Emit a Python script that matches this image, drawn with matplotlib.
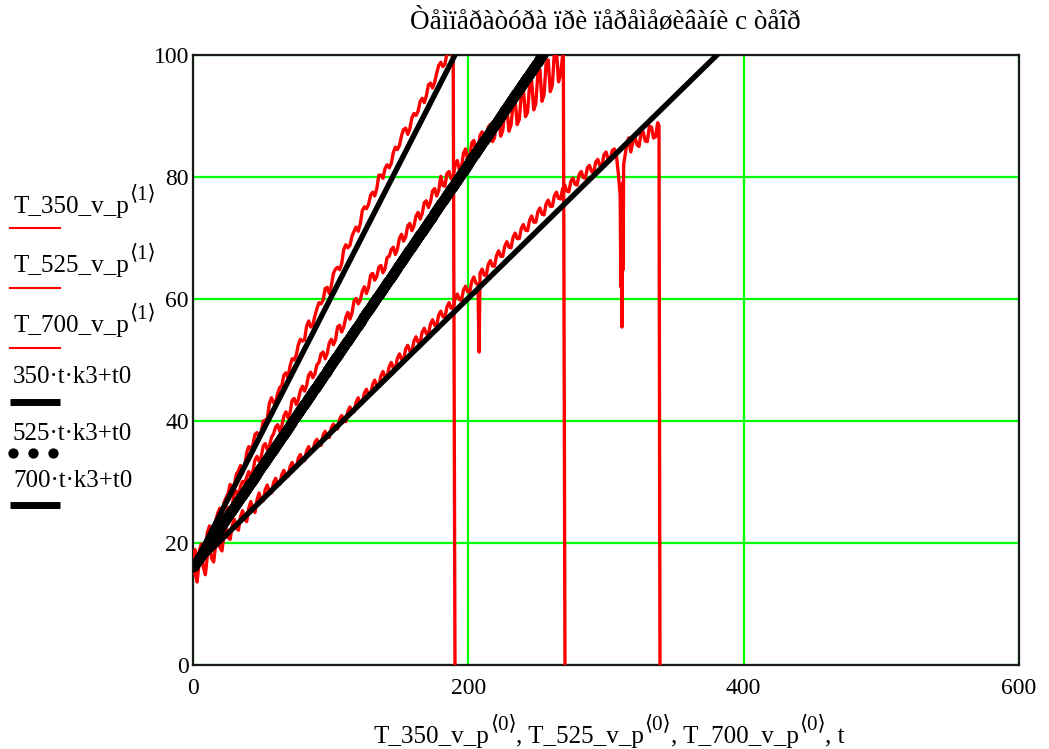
import numpy as np
import matplotlib
matplotlib.use("Agg")
import matplotlib.pyplot as plt

SERIF = ["Liberation Serif", "DejaVu Serif", "DejaVu Sans"]
plt.rcParams["font.family"] = SERIF

# ---------------- data ----------------
title_text = "Òåìïåðàòóðà ïðè ïåðåìåøèâàíè c òåîð"
x_ticks = [0, 200, 400, 600]
y_ticks = [0, 20, 40, 60, 80, 100]

k3 = 0.0006306
t0 = 16.0
speeds = [350, 525, 700]

step = 3.0  # sampling interval; "mid" readings sit half a step later

T_700_vals = [17.0, 16.2, 19.8, 19.2, 22.8, 22.7, 24.9, 24.7, 27.4, 29.6,
              29.5, 31.8, 31.4, 34.8, 35.4, 37.8, 37.4, 40.0, 40.5, 43.8,
              43.1, 45.5, 47.5, 47.1, 50.2, 50.8, 53.4, 53.3, 56.4, 55.7,
              58.4, 59.2, 61.7, 60.9, 64.2, 65.2, 65.8, 68.9, 68.8, 71.1,
              71.1, 74.5, 74.8, 77.0, 76.9, 80.3, 79.8, 82.0, 82.2, 84.9,
              85.2, 87.8, 87.0, 89.7, 90.1, 92.4, 92.2, 95.1, 94.6, 97.0,
              98.8, 98.5, 101.1, 100.5]
T_700_mid = [14.9, 18.6, 18.3, 21.8, 21.6, 23.6, 25.7, 26.6, 28.1, 28.8,
             31.3, 32.7, 32.6, 35.8, 36.1, 38.1, 38.1, 40.1, 42.9, 43.0,
             44.5, 45.8, 47.9, 49.0, 50.0, 52.5, 53.1, 55.5, 55.4, 57.2,
             59.4, 59.8, 61.9, 62.2, 64.9, 64.8, 68.1, 68.4, 70.3, 71.8,
             72.3, 75.1, 75.5, 77.5, 78.1, 80.3, 81.4, 81.5, 84.0, 84.5,
             86.8, 88.0, 87.9, 90.4, 90.8, 92.9, 93.3, 95.4, 95.5, 98.3,
             98.1, 100.3, 100.0]
T_700_extra_t = [190.3]
T_700_extra_v = [0.0]

T_525_vals = [17.8, 15.9, 19.3, 18.4, 21.4, 20.7, 23.6, 22.8, 24.9, 25.2,
              28.4, 27.4, 30.1, 30.8, 30.8, 33.6, 33.4, 35.9, 35.3, 37.3,
              39.0, 38.3, 40.8, 40.5, 43.4, 42.7, 45.0, 44.9, 47.5, 47.1,
              49.2, 51.0, 50.2, 52.8, 52.5, 55.4, 54.6, 57.0, 56.7, 59.7,
              59.2, 61.3, 60.9, 63.9, 63.1, 65.2, 64.3, 66.8, 68.1, 67.3,
              70.0, 69.5, 72.0, 71.2, 73.6, 73.1, 75.8, 75.0, 77.7, 76.9,
              80.1, 78.5, 80.9, 79.9, 82.7, 81.6, 84.6, 83.1, 86.0, 84.3,
              87.4, 85.5, 88.6, 86.4, 89.9, 87.6, 91.3, 88.5, 92.6, 89.4,
              94.5, 90.6, 95.8, 92.0, 97.6, 93.5, 99.2, 95.0, 100.8, 96.8]
T_525_mid = [18.9, 16.8, 19.9, 19.2, 21.8, 21.6, 23.9, 23.3, 25.8, 26.1,
             28.5, 29.3, 29.8, 31.7, 31.8, 34.2, 34.1, 36.3, 35.9, 37.9,
             39.4, 39.2, 41.5, 41.4, 43.7, 43.5, 45.7, 45.8, 48.0, 47.7,
             49.6, 51.3, 51.1, 53.4, 53.3, 55.7, 55.4, 57.8, 57.7, 60.1,
             59.8, 62.0, 61.9, 64.2, 63.7, 65.5, 65.0, 67.0, 68.5, 68.2,
             70.6, 70.2, 72.4, 72.0, 74.2, 74.0, 76.1, 75.9, 78.1, 77.8,
             78.6, 80.6, 79.7, 82.1, 81.2, 83.9, 82.8, 85.6, 84.2, 86.8,
             84.9, 88.2, 85.8, 89.3, 86.7, 90.8, 87.5, 92.0, 88.6, 93.6,
             89.9, 95.1, 91.0, 96.9, 92.4, 98.6, 94.0, 100.4, 95.6]
T_525_extra_t = [269.0, 270.2]
T_525_extra_v = [101.0, 0.0]

T_350_vals = [17.4, 13.6, 18.9, 14.8, 19.8, 16.9, 21.2, 18.7, 22.5, 20.6,
              23.9, 22.1, 25.3, 23.5, 26.8, 25.0, 28.2, 26.9, 29.5, 28.2,
              30.6, 29.6, 31.9, 30.9, 33.2, 32.3, 34.5, 33.5, 35.8, 35.0,
              37.0, 36.0, 38.3, 37.3, 39.5, 38.7, 40.9, 39.9, 42.3, 41.5,
              43.8, 42.9, 45.2, 44.3, 46.7, 45.7, 48.1, 47.2, 49.6, 48.6,
              51.0, 50.1, 52.4, 51.4, 53.8, 52.9, 55.2, 54.2, 56.6, 55.7,
              58.0, 57.0, 59.4, 58.5, 60.8, 59.8, 62.1, 61.1, 63.6, 62.4,
              64.9, 63.9, 66.3, 65.4, 67.9, 67.0, 69.4, 68.4, 70.8, 69.9,
              72.2, 71.2, 73.6, 72.6, 74.9, 73.8, 76.2, 75.2, 77.5, 76.4,
              78.7, 77.6, 79.8, 78.7, 80.9, 79.8, 81.9, 80.7, 82.9, 81.8,
              84.1, 82.7, 84.6, 80.5]
T_350_mid = [15.0, 17.0, 16.0, 18.1, 17.5, 19.7, 19.3, 21.3, 20.9, 22.9,
             22.5, 24.3, 23.9, 25.7, 25.5, 27.1, 27.0, 28.8, 28.4, 29.9,
             29.7, 31.2, 31.0, 32.5, 32.3, 33.9, 33.6, 35.1, 35.0, 36.5,
             36.2, 37.7, 37.4, 38.9, 38.7, 40.3, 40.0, 41.6, 41.5, 43.1,
             42.9, 44.6, 44.3, 46.0, 45.8, 47.4, 47.2, 48.9, 48.7, 50.3,
             50.1, 51.8, 51.5, 53.1, 52.9, 54.6, 54.3, 55.9, 55.7, 57.4,
             57.1, 58.7, 58.5, 60.2, 59.9, 61.5, 61.2, 62.9, 62.6, 64.2,
             63.9, 65.7, 65.4, 67.1, 67.0, 68.7, 68.5, 70.1, 69.9, 71.6,
             71.3, 72.9, 72.6, 74.3, 73.9, 75.6, 75.2, 76.9, 76.5, 78.1,
             77.7, 79.3, 78.8, 80.4, 79.9, 81.5, 80.9, 82.4, 81.9, 83.6,
             83.0, 84.3, 83.6]
T_350_extra_t = [207.8, 310.3, 310.8, 311.2, 311.6, 312.0, 312.4, 312.8,
                 315.0, 316.5, 318.0, 319.5, 321.0, 322.5, 324.0, 325.5,
                 327.0, 328.5, 330.0, 331.5, 333.0, 334.5, 336.0, 337.5,
                 338.5, 339.2]
T_350_extra_v = [51.3, 77.0, 62.0, 74.0, 55.4, 79.0, 64.8, 82.0,
                 85.2, 86.4, 84.1, 85.7, 86.6, 85.3, 85.0, 87.2,
                 87.4, 85.9, 85.8, 88.3, 88.2, 86.4, 86.6, 88.9,
                 88.4, 0.0]


def build(vals, mids, et, ev):
    t = np.concatenate([step * np.arange(len(vals)),
                        step * np.arange(len(mids)) + step / 2,
                        np.array(et)])
    v = np.concatenate([np.array(vals), np.array(mids), np.array(ev)])
    o = np.argsort(t, kind="stable")
    return t[o], v[o]


t350, v350 = build(T_350_vals, T_350_mid, T_350_extra_t, T_350_extra_v)
t525, v525 = build(T_525_vals, T_525_mid, T_525_extra_t, T_525_extra_v)
t700, v700 = build(T_700_vals, T_700_mid, T_700_extra_t, T_700_extra_v)

# ---------------- figure ----------------
W, H = 1049, 749
fig = plt.figure(figsize=(W / 100, H / 100), dpi=100)
ax = fig.add_axes([193 / W, 1 - 665 / H, 826 / W, 610 / H])

RED = "#ff0000"
for tt, vv in ((t350, v350), (t525, v525), (t700, v700)):
    ax.plot(tt, vv, color=RED, lw=2.4, zorder=3)

t_fit = np.linspace(0, 400, 1601)
ax.plot(t_fit, speeds[0] * t_fit * k3 + t0, color="black", lw=3.9,
        solid_capstyle="butt", zorder=4)
t_dot = np.linspace(0, 300, 1201)
ax.plot(t_dot, speeds[1] * t_dot * k3 + t0, ls="none", marker="o", ms=7.2,
        mec="none", color="black", zorder=4)
ax.plot(t_fit, speeds[2] * t_fit * k3 + t0, color="black", lw=3.9,
        solid_capstyle="butt", zorder=4)

ax.set_xlim(0, 600)
ax.set_ylim(0, 100)
ax.set_xticks(x_ticks)
ax.set_yticks(y_ticks)
ax.grid(True, color="#00ff00", lw=1.6)
ax.set_axisbelow(True)
ax.tick_params(length=0, labelsize=17)
ax.tick_params(axis="x", pad=9)
ax.tick_params(axis="y", pad=3)
for s in ax.spines.values():
    s.set_color("#1a1a1a")
    s.set_linewidth(1.6)

# ---------------- overlay for legend / labels (pixel coords) ----------------
ov = fig.add_axes([0, 0, 1, 1], zorder=10)
ov.set_xlim(0, W)
ov.set_ylim(H, 0)
ov.axis("off")
ov.patch.set_visible(False)

renderer = fig.canvas.get_renderer()


def rich(x, y, parts, fs=18, sfs=15, rise=14):
    for txt, sup in parts:
        t = ov.text(x, y - (rise if sup else 0), txt, fontsize=sfs if sup else fs,
                    family=SERIF, va="baseline", ha="left")
        bb = t.get_window_extent(renderer=renderer)
        x = x + bb.width
    return x


ov.text(605, 29, title_text, fontsize=19.5, ha="center", va="baseline", family=SERIF)

legend_names = ["T_350_v_p", "T_525_v_p", "T_700_v_p"]
legend_base = [213, 272, 332]
legend_line = [228, 288, 348]
for name, b, ly in zip(legend_names, legend_base, legend_line):
    rich(13, b, [(name, False), ("⟨1⟩", True)])
    ov.plot([10, 60], [ly, ly], color=RED, lw=1.5)

fit_labels = [f"{v}·t·k3+t0" for v in speeds]
fit_base = [383, 440, 487]
for lab, b in zip(fit_labels, fit_base):
    ov.text(13, b, lab, fontsize=18, va="baseline", ha="left", family=SERIF)
ov.plot([10, 60], [402, 402], color="black", lw=5, solid_capstyle="butt")
ov.plot([13, 33, 53], [453, 453, 453], ls="none", marker="o", ms=7.4,
        color="black", mec="none")
ov.plot([10, 60], [505, 505], color="black", lw=5, solid_capstyle="butt")

rich(374, 743, [("T_350_v_p", False), ("⟨0⟩", True),
                (", T_525_v_p", False), ("⟨0⟩", True),
                (", T_700_v_p", False), ("⟨0⟩", True),
                (", t", False)])

fig.savefig("out.png", dpi=100)
